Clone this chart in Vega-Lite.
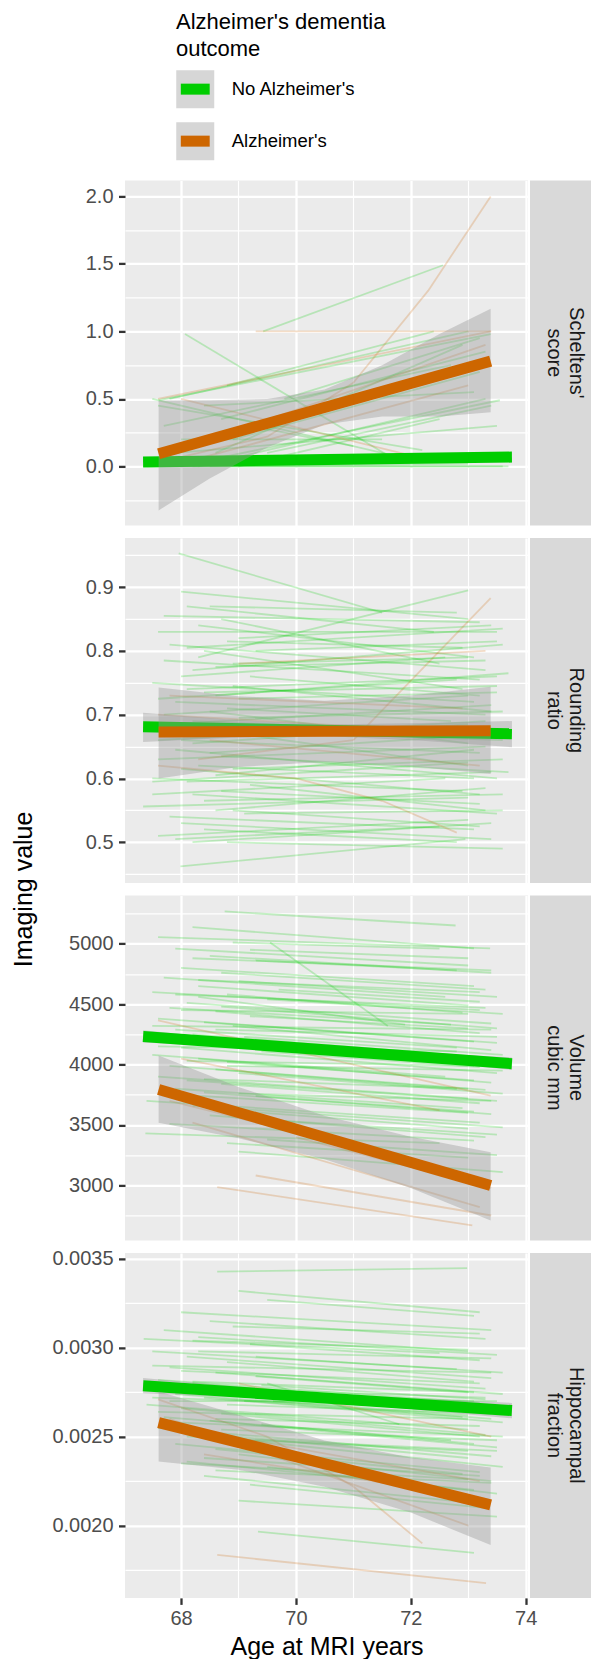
{
"$schema":"https://vega.github.io/schema/vega-lite/v6.json",
"background":"#FFFFFF",
"padding":{"left":11,"top":11.4,"right":0,"bottom":0},
"columns":2,
"spacing":{"row":12.5,"column":2},
"bounds":"flush",
"datasets":{
"seg":[
{"p":1,"g":"No Alzheimer's","x":68.07,"y":0.98,"x2":71.8,"y2":0.03},
{"p":1,"g":"No Alzheimer's","x":69.43,"y":1.0,"x2":72.56,"y2":1.49},
{"p":1,"g":"No Alzheimer's","x":67.61,"y":0.49,"x2":73.39,"y2":0.98},
{"p":1,"g":"No Alzheimer's","x":68.05,"y":0.01,"x2":73.55,"y2":0.49},
{"p":1,"g":"No Alzheimer's","x":67.8,"y":0.5,"x2":73.0,"y2":1.0},
{"p":1,"g":"No Alzheimer's","x":68.3,"y":0.0,"x2":73.3,"y2":0.5},
{"p":1,"g":"No Alzheimer's","x":68.6,"y":0.1,"x2":72.9,"y2":0.9},
{"p":1,"g":"No Alzheimer's","x":67.5,"y":0.5,"x2":72.0,"y2":0.05},
{"p":1,"g":"No Alzheimer's","x":68.9,"y":0.2,"x2":73.2,"y2":0.7},
{"p":1,"g":"No Alzheimer's","x":69.0,"y":0.0,"x2":72.5,"y2":0.35},
{"p":1,"g":"No Alzheimer's","x":67.7,"y":0.3,"x2":72.7,"y2":0.75},
{"p":1,"g":"No Alzheimer's","x":68.4,"y":0.45,"x2":73.1,"y2":0.55},
{"p":1,"g":"No Alzheimer's","x":69.5,"y":0.1,"x2":73.4,"y2":0.45},
{"p":1,"g":"No Alzheimer's","x":68.0,"y":0.2,"x2":71.5,"y2":0.2},
{"p":1,"g":"No Alzheimer's","x":67.4,"y":0.0,"x2":73.7,"y2":0.0},
{"p":1,"g":"No Alzheimer's","x":68.2,"y":0.0,"x2":73.0,"y2":0.02},
{"p":1,"g":"No Alzheimer's","x":68.8,"y":0.6,"x2":72.4,"y2":1.0},
{"p":1,"g":"No Alzheimer's","x":69.8,"y":0.5,"x2":73.2,"y2":0.95},
{"p":1,"g":"No Alzheimer's","x":67.9,"y":0.1,"x2":73.5,"y2":0.3},
{"p":1,"g":"No Alzheimer's","x":68.5,"y":0.0,"x2":73.6,"y2":0.0},
{"p":1,"g":"No Alzheimer's","x":69.2,"y":0.3,"x2":71.0,"y2":0.15},
{"p":1,"g":"No Alzheimer's","x":67.6,"y":0.45,"x2":72.2,"y2":0.12},
{"p":1,"g":"No Alzheimer's","x":68.7,"y":0.35,"x2":73.3,"y2":0.85},
{"p":1,"g":"Alzheimer's","x":67.61,"y":0.03,"x2":69.5,"y2":0.22},
{"p":1,"g":"Alzheimer's","x":69.5,"y":0.22,"x2":71.0,"y2":0.62},
{"p":1,"g":"Alzheimer's","x":71.0,"y":0.62,"x2":72.3,"y2":1.3},
{"p":1,"g":"Alzheimer's","x":72.3,"y":1.3,"x2":73.39,"y2":2.0},
{"p":1,"g":"Alzheimer's","x":67.6,"y":0.5,"x2":73.39,"y2":1.0},
{"p":1,"g":"Alzheimer's","x":68.0,"y":0.5,"x2":72.1,"y2":0.07},
{"p":1,"g":"Alzheimer's","x":69.3,"y":1.0,"x2":73.4,"y2":1.0},
{"p":1,"g":"Alzheimer's","x":68.5,"y":0.2,"x2":73.3,"y2":0.9},
{"p":1,"g":"Alzheimer's","x":67.8,"y":0.0,"x2":73.0,"y2":0.6},
{"p":2,"g":"No Alzheimer's","x":67.96,"y":0.953,"x2":71.5,"y2":0.86},
{"p":2,"g":"No Alzheimer's","x":68.0,"y":0.893,"x2":73.0,"y2":0.85},
{"p":2,"g":"No Alzheimer's","x":67.6,"y":0.83,"x2":73.5,"y2":0.83},
{"p":2,"g":"No Alzheimer's","x":68.5,"y":0.87,"x2":72.8,"y2":0.86},
{"p":2,"g":"No Alzheimer's","x":68.3,"y":0.79,"x2":73.0,"y2":0.895},
{"p":2,"g":"No Alzheimer's","x":67.8,"y":0.81,"x2":73.3,"y2":0.77},
{"p":2,"g":"No Alzheimer's","x":68.2,"y":0.77,"x2":73.6,"y2":0.81},
{"p":2,"g":"No Alzheimer's","x":68.7,"y":0.85,"x2":72.5,"y2":0.78},
{"p":2,"g":"No Alzheimer's","x":69.0,"y":0.82,"x2":73.4,"y2":0.84},
{"p":2,"g":"No Alzheimer's","x":67.5,"y":0.75,"x2":73.1,"y2":0.72},
{"p":2,"g":"No Alzheimer's","x":68.1,"y":0.74,"x2":73.5,"y2":0.76},
{"p":2,"g":"No Alzheimer's","x":68.9,"y":0.78,"x2":73.0,"y2":0.79},
{"p":2,"g":"No Alzheimer's","x":68.4,"y":0.80,"x2":72.9,"y2":0.74},
{"p":2,"g":"No Alzheimer's","x":67.9,"y":0.72,"x2":73.3,"y2":0.70},
{"p":2,"g":"No Alzheimer's","x":68.6,"y":0.73,"x2":73.7,"y2":0.765},
{"p":2,"g":"No Alzheimer's","x":69.2,"y":0.76,"x2":73.2,"y2":0.73},
{"p":2,"g":"No Alzheimer's","x":67.7,"y":0.70,"x2":73.0,"y2":0.73},
{"p":2,"g":"No Alzheimer's","x":68.2,"y":0.69,"x2":73.4,"y2":0.67},
{"p":2,"g":"No Alzheimer's","x":68.8,"y":0.71,"x2":72.7,"y2":0.69},
{"p":2,"g":"No Alzheimer's","x":67.4,"y":0.68,"x2":73.6,"y2":0.66},
{"p":2,"g":"No Alzheimer's","x":68.0,"y":0.66,"x2":73.2,"y2":0.64},
{"p":2,"g":"No Alzheimer's","x":68.5,"y":0.64,"x2":73.5,"y2":0.67},
{"p":2,"g":"No Alzheimer's","x":69.0,"y":0.67,"x2":73.0,"y2":0.62},
{"p":2,"g":"No Alzheimer's","x":67.6,"y":0.63,"x2":73.3,"y2":0.65},
{"p":2,"g":"No Alzheimer's","x":68.3,"y":0.62,"x2":73.1,"y2":0.60},
{"p":2,"g":"No Alzheimer's","x":68.9,"y":0.615,"x2":73.6,"y2":0.63},
{"p":2,"g":"No Alzheimer's","x":67.5,"y":0.60,"x2":72.9,"y2":0.58},
{"p":2,"g":"No Alzheimer's","x":68.1,"y":0.595,"x2":73.4,"y2":0.61},
{"p":2,"g":"No Alzheimer's","x":68.7,"y":0.58,"x2":73.2,"y2":0.56},
{"p":2,"g":"No Alzheimer's","x":67.34,"y":0.556,"x2":73.0,"y2":0.57},
{"p":2,"g":"No Alzheimer's","x":68.2,"y":0.575,"x2":73.5,"y2":0.545},
{"p":2,"g":"No Alzheimer's","x":68.6,"y":0.55,"x2":73.3,"y2":0.585},
{"p":2,"g":"No Alzheimer's","x":67.8,"y":0.54,"x2":73.1,"y2":0.52},
{"p":2,"g":"No Alzheimer's","x":69.1,"y":0.545,"x2":73.6,"y2":0.55},
{"p":2,"g":"No Alzheimer's","x":68.0,"y":0.53,"x2":73.4,"y2":0.505},
{"p":2,"g":"No Alzheimer's","x":67.6,"y":0.51,"x2":73.0,"y2":0.535},
{"p":2,"g":"No Alzheimer's","x":68.4,"y":0.52,"x2":72.8,"y2":0.50},
{"p":2,"g":"No Alzheimer's","x":67.99,"y":0.462,"x2":72.95,"y2":0.505},
{"p":2,"g":"No Alzheimer's","x":68.8,"y":0.50,"x2":73.6,"y2":0.49},
{"p":2,"g":"No Alzheimer's","x":67.9,"y":0.505,"x2":72.5,"y2":0.525},
{"p":2,"g":"No Alzheimer's","x":68.3,"y":0.84,"x2":73.1,"y2":0.79},
{"p":2,"g":"No Alzheimer's","x":69.3,"y":0.80,"x2":73.5,"y2":0.815},
{"p":2,"g":"No Alzheimer's","x":68.1,"y":0.87,"x2":72.4,"y2":0.83},
{"p":2,"g":"No Alzheimer's","x":67.7,"y":0.785,"x2":73.2,"y2":0.755},
{"p":2,"g":"No Alzheimer's","x":68.9,"y":0.745,"x2":73.4,"y2":0.705},
{"p":2,"g":"No Alzheimer's","x":67.6,"y":0.725,"x2":72.8,"y2":0.755},
{"p":2,"g":"No Alzheimer's","x":69.0,"y":0.695,"x2":73.6,"y2":0.705},
{"p":2,"g":"No Alzheimer's","x":68.2,"y":0.655,"x2":73.0,"y2":0.685},
{"p":2,"g":"No Alzheimer's","x":67.9,"y":0.645,"x2":73.5,"y2":0.60},
{"p":2,"g":"No Alzheimer's","x":68.6,"y":0.605,"x2":73.1,"y2":0.645},
{"p":2,"g":"No Alzheimer's","x":67.5,"y":0.575,"x2":72.6,"y2":0.60},
{"p":2,"g":"No Alzheimer's","x":68.4,"y":0.565,"x2":73.6,"y2":0.575},
{"p":2,"g":"No Alzheimer's","x":69.2,"y":0.59,"x2":73.3,"y2":0.55},
{"p":2,"g":"No Alzheimer's","x":68.0,"y":0.615,"x2":73.2,"y2":0.575},
{"p":2,"g":"No Alzheimer's","x":68.7,"y":0.635,"x2":73.7,"y2":0.61},
{"p":2,"g":"No Alzheimer's","x":67.8,"y":0.685,"x2":73.4,"y2":0.715},
{"p":2,"g":"No Alzheimer's","x":68.5,"y":0.705,"x2":73.0,"y2":0.655},
{"p":2,"g":"No Alzheimer's","x":68.1,"y":0.805,"x2":73.6,"y2":0.835},
{"p":2,"g":"No Alzheimer's","x":68.8,"y":0.815,"x2":72.9,"y2":0.805},
{"p":2,"g":"No Alzheimer's","x":67.7,"y":0.855,"x2":73.2,"y2":0.845},
{"p":2,"g":"No Alzheimer's","x":68.4,"y":0.735,"x2":73.5,"y2":0.745},
{"p":2,"g":"No Alzheimer's","x":67.6,"y":0.66,"x2":73.3,"y2":0.69},
{"p":2,"g":"No Alzheimer's","x":68.9,"y":0.55,"x2":73.2,"y2":0.525},
{"p":2,"g":"No Alzheimer's","x":68.2,"y":0.50,"x2":73.4,"y2":0.53},
{"p":2,"g":"No Alzheimer's","x":67.5,"y":0.595,"x2":73.0,"y2":0.625},
{"p":2,"g":"No Alzheimer's","x":68.6,"y":0.775,"x2":73.3,"y2":0.785},
{"p":2,"g":"No Alzheimer's","x":68.0,"y":0.76,"x2":72.6,"y2":0.79},
{"p":2,"g":"No Alzheimer's","x":69.0,"y":0.725,"x2":73.5,"y2":0.735},
{"p":2,"g":"Alzheimer's","x":68.3,"y":0.63,"x2":71.0,"y2":0.66},
{"p":2,"g":"Alzheimer's","x":71.0,"y":0.66,"x2":73.39,"y2":0.883},
{"p":2,"g":"Alzheimer's","x":67.6,"y":0.62,"x2":70.0,"y2":0.60},
{"p":2,"g":"Alzheimer's","x":70.0,"y":0.60,"x2":71.5,"y2":0.565},
{"p":2,"g":"Alzheimer's","x":71.5,"y":0.565,"x2":72.8,"y2":0.515},
{"p":2,"g":"Alzheimer's","x":67.6,"y":0.70,"x2":73.3,"y2":0.67},
{"p":2,"g":"Alzheimer's","x":68.5,"y":0.66,"x2":73.2,"y2":0.62},
{"p":2,"g":"Alzheimer's","x":69.0,"y":0.78,"x2":73.3,"y2":0.80},
{"p":2,"g":"Alzheimer's","x":67.8,"y":0.73,"x2":72.9,"y2":0.71},
{"p":3,"g":"No Alzheimer's","x":68.76,"y":5267,"x2":72.78,"y2":5151},
{"p":3,"g":"No Alzheimer's","x":68.2,"y":5137,"x2":73.1,"y2":4961},
{"p":3,"g":"No Alzheimer's","x":67.6,"y":5055,"x2":73.38,"y2":4961},
{"p":3,"g":"No Alzheimer's","x":68.9,"y":5010,"x2":72.5,"y2":4960},
{"p":3,"g":"No Alzheimer's","x":67.9,"y":4960,"x2":73.0,"y2":4820},
{"p":3,"g":"No Alzheimer's","x":68.5,"y":4900,"x2":73.4,"y2":4760},
{"p":3,"g":"No Alzheimer's","x":69.3,"y":4860,"x2":72.8,"y2":4780},
{"p":3,"g":"No Alzheimer's","x":68.0,"y":4800,"x2":73.1,"y2":4650},
{"p":3,"g":"No Alzheimer's","x":68.7,"y":4760,"x2":73.3,"y2":4620},
{"p":3,"g":"No Alzheimer's","x":67.7,"y":4720,"x2":72.6,"y2":4560},
{"p":3,"g":"No Alzheimer's","x":69.0,"y":4690,"x2":73.5,"y2":4560},
{"p":3,"g":"No Alzheimer's","x":68.3,"y":4650,"x2":73.0,"y2":4490},
{"p":3,"g":"No Alzheimer's","x":67.5,"y":4600,"x2":73.2,"y2":4450},
{"p":3,"g":"No Alzheimer's","x":68.8,"y":4580,"x2":72.9,"y2":4430},
{"p":3,"g":"No Alzheimer's","x":69.5,"y":4540,"x2":73.6,"y2":4420},
{"p":3,"g":"No Alzheimer's","x":68.1,"y":4510,"x2":73.4,"y2":4340},
{"p":3,"g":"No Alzheimer's","x":67.8,"y":4470,"x2":72.7,"y2":4330},
{"p":3,"g":"No Alzheimer's","x":68.6,"y":4440,"x2":73.2,"y2":4260},
{"p":3,"g":"No Alzheimer's","x":69.2,"y":4400,"x2":73.0,"y2":4300},
{"p":3,"g":"No Alzheimer's","x":67.6,"y":4380,"x2":73.5,"y2":4180},
{"p":3,"g":"No Alzheimer's","x":68.4,"y":4350,"x2":73.1,"y2":4190},
{"p":3,"g":"No Alzheimer's","x":68.9,"y":4320,"x2":73.4,"y2":4120},
{"p":3,"g":"No Alzheimer's","x":67.9,"y":4290,"x2":72.8,"y2":4140},
{"p":3,"g":"No Alzheimer's","x":68.2,"y":4250,"x2":73.3,"y2":4060},
{"p":3,"g":"No Alzheimer's","x":69.1,"y":4230,"x2":73.6,"y2":4080},
{"p":3,"g":"No Alzheimer's","x":67.7,"y":4200,"x2":73.0,"y2":4020},
{"p":3,"g":"No Alzheimer's","x":68.5,"y":4170,"x2":72.9,"y2":4010},
{"p":3,"g":"No Alzheimer's","x":68.0,"y":4140,"x2":73.5,"y2":3930},
{"p":3,"g":"No Alzheimer's","x":69.4,"y":4110,"x2":73.2,"y2":3980},
{"p":3,"g":"No Alzheimer's","x":67.5,"y":4080,"x2":72.6,"y2":3900},
{"p":3,"g":"No Alzheimer's","x":68.3,"y":4050,"x2":73.4,"y2":3850},
{"p":3,"g":"No Alzheimer's","x":68.8,"y":4020,"x2":73.1,"y2":3870},
{"p":3,"g":"No Alzheimer's","x":67.8,"y":3990,"x2":73.3,"y2":3790},
{"p":3,"g":"No Alzheimer's","x":68.6,"y":3960,"x2":72.8,"y2":3800},
{"p":3,"g":"No Alzheimer's","x":69.0,"y":3930,"x2":73.6,"y2":3760},
{"p":3,"g":"No Alzheimer's","x":67.6,"y":3900,"x2":73.0,"y2":3720},
{"p":3,"g":"No Alzheimer's","x":68.1,"y":3870,"x2":73.5,"y2":3700},
{"p":3,"g":"No Alzheimer's","x":68.7,"y":3840,"x2":73.2,"y2":3680},
{"p":3,"g":"No Alzheimer's","x":67.9,"y":3800,"x2":72.9,"y2":3640},
{"p":3,"g":"No Alzheimer's","x":68.4,"y":3770,"x2":73.4,"y2":3590},
{"p":3,"g":"No Alzheimer's","x":69.3,"y":3740,"x2":73.1,"y2":3610},
{"p":3,"g":"No Alzheimer's","x":67.4,"y":3700,"x2":73.2,"y2":3520},
{"p":3,"g":"No Alzheimer's","x":68.2,"y":3660,"x2":73.6,"y2":3480},
{"p":3,"g":"No Alzheimer's","x":68.9,"y":3620,"x2":73.0,"y2":3470},
{"p":3,"g":"No Alzheimer's","x":67.38,"y":3430,"x2":72.5,"y2":3350},
{"p":3,"g":"No Alzheimer's","x":68.5,"y":3580,"x2":73.3,"y2":3400},
{"p":3,"g":"No Alzheimer's","x":69.6,"y":3540,"x2":73.5,"y2":3420},
{"p":3,"g":"No Alzheimer's","x":67.8,"y":3510,"x2":73.1,"y2":3370},
{"p":3,"g":"No Alzheimer's","x":68.3,"y":4700,"x2":73.2,"y2":4600},
{"p":3,"g":"No Alzheimer's","x":68.0,"y":4450,"x2":73.0,"y2":4420},
{"p":3,"g":"No Alzheimer's","x":69.2,"y":4950,"x2":73.0,"y2":4880},
{"p":3,"g":"No Alzheimer's","x":68.6,"y":4290,"x2":73.5,"y2":4230},
{"p":3,"g":"No Alzheimer's","x":67.6,"y":4150,"x2":72.8,"y2":4110},
{"p":3,"g":"No Alzheimer's","x":68.8,"y":3990,"x2":73.6,"y2":3950},
{"p":3,"g":"No Alzheimer's","x":67.9,"y":4580,"x2":73.3,"y2":4470},
{"p":3,"g":"No Alzheimer's","x":68.4,"y":3880,"x2":73.0,"y2":3800},
{"p":3,"g":"No Alzheimer's","x":69.0,"y":3760,"x2":73.4,"y2":3700},
{"p":3,"g":"No Alzheimer's","x":68.1,"y":4030,"x2":73.1,"y2":3990},
{"p":3,"g":"No Alzheimer's","x":67.5,"y":4320,"x2":73.4,"y2":4290},
{"p":3,"g":"No Alzheimer's","x":68.7,"y":4480,"x2":73.5,"y2":4300},
{"p":3,"g":"No Alzheimer's","x":69.7,"y":4620,"x2":73.2,"y2":4520},
{"p":3,"g":"No Alzheimer's","x":68.2,"y":4880,"x2":73.4,"y2":4780},
{"p":3,"g":"No Alzheimer's","x":67.7,"y":3760,"x2":73.0,"y2":3600},
{"p":3,"g":"No Alzheimer's","x":69.5,"y":3380,"x2":73.5,"y2":3250},
{"p":3,"g":"No Alzheimer's","x":69.0,"y":3280,"x2":73.6,"y2":3110},
{"p":3,"g":"No Alzheimer's","x":68.8,"y":3350,"x2":73.0,"y2":3230},
{"p":3,"g":"No Alzheimer's","x":69.55,"y":5010,"x2":71.6,"y2":4320},
{"p":3,"g":"No Alzheimer's","x":68.3,"y":4560,"x2":71.9,"y2":4330},
{"p":3,"g":"Alzheimer's","x":68.63,"y":2986,"x2":73.07,"y2":2669},
{"p":3,"g":"Alzheimer's","x":69.3,"y":3082,"x2":73.4,"y2":2751},
{"p":3,"g":"Alzheimer's","x":67.6,"y":4365,"x2":73.39,"y2":3744},
{"p":3,"g":"Alzheimer's","x":67.8,"y":3700,"x2":73.3,"y2":3050},
{"p":3,"g":"Alzheimer's","x":68.2,"y":3520,"x2":73.2,"y2":2820},
{"p":3,"g":"Alzheimer's","x":70.0,"y":3400,"x2":73.4,"y2":2980},
{"p":3,"g":"Alzheimer's","x":68.0,"y":4050,"x2":72.5,"y2":3620},
{"p":4,"g":"No Alzheimer's","x":68.63,"y":0.003429,"x2":72.98,"y2":0.003448},
{"p":4,"g":"No Alzheimer's","x":69.0,"y":0.00332,"x2":73.2,"y2":0.0032},
{"p":4,"g":"No Alzheimer's","x":69.5,"y":0.00327,"x2":73.1,"y2":0.00318},
{"p":4,"g":"No Alzheimer's","x":68.0,"y":0.0032,"x2":73.4,"y2":0.0031},
{"p":4,"g":"No Alzheimer's","x":68.5,"y":0.00315,"x2":73.3,"y2":0.00305},
{"p":4,"g":"No Alzheimer's","x":67.7,"y":0.0031,"x2":73.0,"y2":0.00298},
{"p":4,"g":"No Alzheimer's","x":68.3,"y":0.00306,"x2":73.5,"y2":0.00296},
{"p":4,"g":"No Alzheimer's","x":69.2,"y":0.00302,"x2":73.2,"y2":0.00293},
{"p":4,"g":"No Alzheimer's","x":67.5,"y":0.00298,"x2":72.8,"y2":0.00288},
{"p":4,"g":"No Alzheimer's","x":68.1,"y":0.00295,"x2":73.4,"y2":0.00283},
{"p":4,"g":"No Alzheimer's","x":68.8,"y":0.00292,"x2":73.1,"y2":0.00281},
{"p":4,"g":"No Alzheimer's","x":67.8,"y":0.00289,"x2":73.3,"y2":0.00277},
{"p":4,"g":"No Alzheimer's","x":68.6,"y":0.00286,"x2":73.6,"y2":0.00274},
{"p":4,"g":"No Alzheimer's","x":69.3,"y":0.00284,"x2":73.0,"y2":0.00275},
{"p":4,"g":"No Alzheimer's","x":67.6,"y":0.00282,"x2":73.2,"y2":0.00269},
{"p":4,"g":"No Alzheimer's","x":68.2,"y":0.0028,"x2":73.5,"y2":0.00266},
{"p":4,"g":"No Alzheimer's","x":68.9,"y":0.00277,"x2":73.1,"y2":0.00265},
{"p":4,"g":"No Alzheimer's","x":67.9,"y":0.00274,"x2":73.4,"y2":0.0026},
{"p":4,"g":"No Alzheimer's","x":68.4,"y":0.00272,"x2":72.9,"y2":0.00261},
{"p":4,"g":"No Alzheimer's","x":69.1,"y":0.0027,"x2":73.6,"y2":0.00258},
{"p":4,"g":"No Alzheimer's","x":67.4,"y":0.00268,"x2":73.0,"y2":0.00254},
{"p":4,"g":"No Alzheimer's","x":68.0,"y":0.00266,"x2":73.3,"y2":0.00251},
{"p":4,"g":"No Alzheimer's","x":68.7,"y":0.00263,"x2":73.2,"y2":0.0025},
{"p":4,"g":"No Alzheimer's","x":67.7,"y":0.00261,"x2":72.7,"y2":0.00248},
{"p":4,"g":"No Alzheimer's","x":68.5,"y":0.00259,"x2":73.5,"y2":0.00244},
{"p":4,"g":"No Alzheimer's","x":69.4,"y":0.00257,"x2":73.1,"y2":0.00246},
{"p":4,"g":"No Alzheimer's","x":67.6,"y":0.00255,"x2":73.4,"y2":0.00239},
{"p":4,"g":"No Alzheimer's","x":68.3,"y":0.00252,"x2":73.0,"y2":0.00238},
{"p":4,"g":"No Alzheimer's","x":68.8,"y":0.00249,"x2":73.6,"y2":0.00233},
{"p":4,"g":"No Alzheimer's","x":67.9,"y":0.00246,"x2":73.2,"y2":0.0023},
{"p":4,"g":"No Alzheimer's","x":68.6,"y":0.00243,"x2":72.9,"y2":0.00229},
{"p":4,"g":"No Alzheimer's","x":69.0,"y":0.0024,"x2":73.4,"y2":0.00225},
{"p":4,"g":"No Alzheimer's","x":68.1,"y":0.00236,"x2":73.1,"y2":0.0022},
{"p":4,"g":"No Alzheimer's","x":69.5,"y":0.00233,"x2":73.5,"y2":0.00218},
{"p":4,"g":"No Alzheimer's","x":68.4,"y":0.00228,"x2":73.0,"y2":0.00213},
{"p":4,"g":"No Alzheimer's","x":69.2,"y":0.00223,"x2":73.3,"y2":0.0021},
{"p":4,"g":"No Alzheimer's","x":69.34,"y":0.001966,"x2":73.1,"y2":0.001846},
{"p":4,"g":"No Alzheimer's","x":68.2,"y":0.00304,"x2":73.0,"y2":0.00299},
{"p":4,"g":"No Alzheimer's","x":67.5,"y":0.0029,"x2":73.4,"y2":0.00286},
{"p":4,"g":"No Alzheimer's","x":68.9,"y":0.00312,"x2":73.2,"y2":0.00308},
{"p":4,"g":"No Alzheimer's","x":67.8,"y":0.0027,"x2":73.5,"y2":0.0027},
{"p":4,"g":"No Alzheimer's","x":68.5,"y":0.00276,"x2":73.1,"y2":0.0027},
{"p":4,"g":"No Alzheimer's","x":69.3,"y":0.00295,"x2":73.6,"y2":0.00286},
{"p":4,"g":"No Alzheimer's","x":67.6,"y":0.00264,"x2":73.0,"y2":0.0026},
{"p":4,"g":"No Alzheimer's","x":68.0,"y":0.00287,"x2":73.2,"y2":0.0028},
{"p":4,"g":"No Alzheimer's","x":68.7,"y":0.00254,"x2":73.5,"y2":0.00248},
{"p":4,"g":"No Alzheimer's","x":69.1,"y":0.00248,"x2":73.0,"y2":0.00242},
{"p":4,"g":"No Alzheimer's","x":67.7,"y":0.00278,"x2":73.3,"y2":0.00272},
{"p":4,"g":"No Alzheimer's","x":68.3,"y":0.00298,"x2":73.4,"y2":0.00294},
{"p":4,"g":"No Alzheimer's","x":68.6,"y":0.0026,"x2":73.2,"y2":0.00256},
{"p":4,"g":"No Alzheimer's","x":69.6,"y":0.0027,"x2":73.0,"y2":0.00262},
{"p":4,"g":"No Alzheimer's","x":67.9,"y":0.00258,"x2":73.6,"y2":0.0025},
{"p":4,"g":"No Alzheimer's","x":68.4,"y":0.00238,"x2":73.2,"y2":0.00228},
{"p":4,"g":"No Alzheimer's","x":69.0,"y":0.00214,"x2":73.5,"y2":0.00205},
{"p":4,"g":"No Alzheimer's","x":68.2,"y":0.00281,"x2":73.1,"y2":0.00275},
{"p":4,"g":"No Alzheimer's","x":67.5,"y":0.00272,"x2":73.0,"y2":0.00266},
{"p":4,"g":"No Alzheimer's","x":68.8,"y":0.00268,"x2":73.4,"y2":0.00263},
{"p":4,"g":"No Alzheimer's","x":69.4,"y":0.00279,"x2":73.3,"y2":0.00271},
{"p":4,"g":"No Alzheimer's","x":69.5,"y":0.0028,"x2":71.8,"y2":0.00257},
{"p":4,"g":"No Alzheimer's","x":68.1,"y":0.0025,"x2":73.5,"y2":0.00242},
{"p":4,"g":"No Alzheimer's","x":67.35,"y":0.00305,"x2":72.5,"y2":0.00297},
{"p":4,"g":"No Alzheimer's","x":68.0,"y":0.00235,"x2":73.0,"y2":0.00226},
{"p":4,"g":"No Alzheimer's","x":68.6,"y":0.00231,"x2":73.4,"y2":0.00224},
{"p":4,"g":"Alzheimer's","x":68.63,"y":0.001835,"x2":73.31,"y2":0.001676},
{"p":4,"g":"Alzheimer's","x":67.6,"y":0.00271,"x2":69.5,"y2":0.0025},
{"p":4,"g":"Alzheimer's","x":69.5,"y":0.0025,"x2":71.0,"y2":0.00222},
{"p":4,"g":"Alzheimer's","x":71.0,"y":0.00222,"x2":72.2,"y2":0.0019},
{"p":4,"g":"Alzheimer's","x":68.0,"y":0.00255,"x2":73.2,"y2":0.00225},
{"p":4,"g":"Alzheimer's","x":67.8,"y":0.0026,"x2":73.0,"y2":0.002},
{"p":4,"g":"Alzheimer's","x":68.4,"y":0.0024,"x2":73.3,"y2":0.00215},
{"p":4,"g":"Alzheimer's","x":69.0,"y":0.0028,"x2":73.4,"y2":0.0025}
],
"band":[
{"p":1,"g":"No Alzheimer's","x":67.34,"y":-0.005,"y2":0.069},
{"p":1,"g":"No Alzheimer's","x":70.5,"y":0.032,"y2":0.068},
{"p":1,"g":"No Alzheimer's","x":73.76,"y":0.03,"y2":0.108},
{"p":1,"g":"Alzheimer's","x":67.61,"y":-0.326,"y2":0.489},
{"p":1,"g":"Alzheimer's","x":68.5,"y":-0.09,"y2":0.49},
{"p":1,"g":"Alzheimer's","x":69.5,"y":0.14,"y2":0.5},
{"p":1,"g":"Alzheimer's","x":70.5,"y":0.31,"y2":0.57},
{"p":1,"g":"Alzheimer's","x":71.5,"y":0.37,"y2":0.75},
{"p":1,"g":"Alzheimer's","x":72.5,"y":0.37,"y2":0.98},
{"p":1,"g":"Alzheimer's","x":73.39,"y":0.402,"y2":1.168},
{"p":2,"g":"No Alzheimer's","x":67.34,"y":0.657,"y2":0.703},
{"p":2,"g":"No Alzheimer's","x":68.9,"y":0.664,"y2":0.692},
{"p":2,"g":"No Alzheimer's","x":70.5,"y":0.6665,"y2":0.6845},
{"p":2,"g":"No Alzheimer's","x":72.2,"y":0.659,"y2":0.687},
{"p":2,"g":"No Alzheimer's","x":73.76,"y":0.649,"y2":0.69},
{"p":2,"g":"Alzheimer's","x":67.61,"y":0.6,"y2":0.7425},
{"p":2,"g":"Alzheimer's","x":69.0,"y":0.618,"y2":0.729},
{"p":2,"g":"Alzheimer's","x":70.5,"y":0.626,"y2":0.722},
{"p":2,"g":"Alzheimer's","x":72.0,"y":0.619,"y2":0.73},
{"p":2,"g":"Alzheimer's","x":73.39,"y":0.607,"y2":0.744},
{"p":3,"g":"No Alzheimer's","x":67.34,"y":4183,"y2":4283},
{"p":3,"g":"No Alzheimer's","x":69.0,"y":4145,"y2":4205},
{"p":3,"g":"No Alzheimer's","x":70.5,"y":4102,"y2":4142},
{"p":3,"g":"No Alzheimer's","x":72.0,"y":4040,"y2":4100},
{"p":3,"g":"No Alzheimer's","x":73.76,"y":3955,"y2":4059},
{"p":3,"g":"Alzheimer's","x":67.61,"y":3519,"y2":4076},
{"p":3,"g":"Alzheimer's","x":69.0,"y":3391,"y2":3815},
{"p":3,"g":"Alzheimer's","x":70.5,"y":3217,"y2":3577},
{"p":3,"g":"Alzheimer's","x":72.0,"y":2979,"y2":3403},
{"p":3,"g":"Alzheimer's","x":73.39,"y":2710,"y2":3275},
{"p":4,"g":"No Alzheimer's","x":67.34,"y":0.002745,"y2":0.00283},
{"p":4,"g":"No Alzheimer's","x":70.5,"y":0.002698,"y2":0.002738},
{"p":4,"g":"No Alzheimer's","x":73.76,"y":0.002603,"y2":0.00269},
{"p":4,"g":"Alzheimer's","x":67.61,"y":0.00236,"y2":0.002754},
{"p":4,"g":"Alzheimer's","x":69.0,"y":0.002314,"y2":0.002623},
{"p":4,"g":"Alzheimer's","x":70.5,"y":0.002218,"y2":0.002478},
{"p":4,"g":"Alzheimer's","x":72.0,"y":0.002073,"y2":0.002383},
{"p":4,"g":"Alzheimer's","x":73.39,"y":0.001891,"y2":0.002326}
],
"fit":[
{"p":1,"g":"No Alzheimer's","x":67.34,"y":0.032,"x2":73.76,"y2":0.069},
{"p":1,"g":"Alzheimer's","x":67.61,"y":0.094,"x2":73.39,"y2":0.78},
{"p":2,"g":"No Alzheimer's","x":67.34,"y":0.681,"x2":73.76,"y2":0.67},
{"p":2,"g":"Alzheimer's","x":67.61,"y":0.673,"x2":73.39,"y2":0.675},
{"p":3,"g":"No Alzheimer's","x":67.34,"y":4233,"x2":73.76,"y2":4007},
{"p":3,"g":"Alzheimer's","x":67.61,"y":3794,"x2":73.39,"y2":3000},
{"p":4,"g":"No Alzheimer's","x":67.34,"y":0.002787,"x2":73.76,"y2":0.002647},
{"p":4,"g":"Alzheimer's","x":67.61,"y":0.002579,"x2":73.39,"y2":0.002116}
]
},
"concat":[
{"width":403,"height":345,"view":{"fill":"#EBEBEB","stroke":null},
 "encoding":{
  "x":{"field":"x","type":"quantitative","scale":{"domain":[67.025,74.04],"nice":false,"zero":false},
   "axis":{"values":[67,68,69,70,71,72,73,74],"labels":false,"ticks":false,"title":null,"gridWidth":{"condition":{"test":"datum.value % 2 === 0","value":2.3},"value":1.15}}},
  "y":{"field":"y","type":"quantitative","scale":{"domain":[-0.437,2.1185],"nice":false,"zero":false},
   "axis":{"values":[-0.25,0,0.25,0.5,0.75,1,1.25,1.5,1.75,2],"format":".1f","title":null,
    "labelExpr":"abs(datum.value*2-round(datum.value*2))<0.001 ? datum.label : ''",
    "tickOpacity":{"condition":{"test":"abs(datum.value*2-round(datum.value*2))<0.001","value":1},"value":0},
    "gridWidth":{"condition":{"test":"abs(datum.value*2-round(datum.value*2))<0.001","value":2.3},"value":1.15}}}
 },
 "layer":[
  {"data":{"name":"seg"},"transform":[{"filter":"datum.p==1"}],"mark":{"type":"rule","strokeWidth":1.8,"strokeOpacity":0.22},
   "encoding":{"x2":{"field":"x2"},"y2":{"field":"y2"},"stroke":{"field":"g","type":"nominal","scale":{"domain":["Alzheimer's","No Alzheimer's"],"range":["#CD6600","#00CD00"]},"legend":null}}},
  {"data":{"name":"band"},"transform":[{"filter":"datum.p==1"},{"filter":{"field":"g","equal":"No Alzheimer's"}}],"mark":{"type":"area"},
   "encoding":{"y2":{"field":"y2"},"fill":{"field":"g","type":"nominal","scale":{"domain":["No Alzheimer's","Alzheimer's"],"range":["rgba(153,153,153,0.4)","rgba(153,153,153,0.4)"]},"legend":{"orient":"none","legendX":51,"legendY":-168.6,"direction":"vertical","title":["Alzheimer's dementia","outcome"],"symbolType":"M-3.042,0H4V4H-4V-4H4V0Z","symbolSize":90.25,"symbolStrokeWidth":11,"symbolDash":[28.9,1000],"symbolOffset":8.75,"zindex":2}}}},
  {"data":{"name":"fit"},"transform":[{"filter":"datum.p==1"},{"filter":{"field":"g","equal":"No Alzheimer's"}}],"mark":{"type":"rule","strokeWidth":11},
   "encoding":{"x2":{"field":"x2"},"y2":{"field":"y2"},"color":{"field":"g","type":"nominal","scale":{"domain":["No Alzheimer's","Alzheimer's"],"range":["#00CD00","#CD6600"]},"legend":{"orient":"none","legendX":51,"legendY":-168.6,"direction":"vertical","title":["Alzheimer's dementia","outcome"],"symbolType":"M-3.042,0H4V4H-4V-4H4V0Z","symbolSize":90.25,"symbolStrokeWidth":11,"symbolDash":[28.9,1000],"symbolOffset":8.75,"zindex":2}}}},
  {"data":{"name":"band"},"transform":[{"filter":"datum.p==1"},{"filter":{"field":"g","equal":"Alzheimer's"}}],"mark":{"type":"area"},
   "encoding":{"y2":{"field":"y2"},"fill":{"field":"g","type":"nominal","scale":{"domain":["No Alzheimer's","Alzheimer's"],"range":["rgba(153,153,153,0.4)","rgba(153,153,153,0.4)"]},"legend":{"orient":"none","legendX":51,"legendY":-168.6,"direction":"vertical","title":["Alzheimer's dementia","outcome"],"symbolType":"M-3.042,0H4V4H-4V-4H4V0Z","symbolSize":90.25,"symbolStrokeWidth":11,"symbolDash":[28.9,1000],"symbolOffset":8.75,"zindex":2}}}},
  {"data":{"name":"fit"},"transform":[{"filter":"datum.p==1"},{"filter":{"field":"g","equal":"Alzheimer's"}}],"mark":{"type":"rule","strokeWidth":11},
   "encoding":{"x2":{"field":"x2"},"y2":{"field":"y2"},"color":{"field":"g","type":"nominal","scale":{"domain":["No Alzheimer's","Alzheimer's"],"range":["#00CD00","#CD6600"]},"legend":{"orient":"none","legendX":51,"legendY":-168.6,"direction":"vertical","title":["Alzheimer's dementia","outcome"],"symbolType":"M-3.042,0H4V4H-4V-4H4V0Z","symbolSize":90.25,"symbolStrokeWidth":11,"symbolDash":[28.9,1000],"symbolOffset":8.75,"zindex":2}}}}
 ]},
{"width":62,"height":345,"view":{"fill":"#D9D9D9","stroke":null},"data":{"values":[{"lab":"Scheltens'\nscore"}]},
 "mark":{"type":"text","angle":90,"fontSize":20,"font":"Liberation Sans","color":"#1A1A1A","lineBreak":"\n","lineHeight":23,"align":"center","baseline":"middle","dy":-15.5},
 "encoding":{"text":{"field":"lab","type":"nominal"}}},
{"width":403,"height":345,"view":{"fill":"#EBEBEB","stroke":null},
 "encoding":{
  "x":{"field":"x","type":"quantitative","scale":{"domain":[67.025,74.04],"nice":false,"zero":false},
   "axis":{"values":[67,68,69,70,71,72,73,74],"labels":false,"ticks":false,"title":null,"gridWidth":{"condition":{"test":"datum.value % 2 === 0","value":2.3},"value":1.15}}},
  "y":{"field":"y","type":"quantitative","scale":{"domain":[0.4362,0.9773],"nice":false,"zero":false},
   "axis":{"values":[0.45,0.5,0.55,0.6,0.65,0.7,0.75,0.8,0.85,0.9,0.95],"format":".1f",
    "title":"Imaging value","titleX":-94,"titleY":351,"titleBaseline":"alphabetic","titleAngle":270,"titleAlign":"center",
    "labelExpr":"abs(datum.value*10-round(datum.value*10))<0.001 ? datum.label : ''",
    "tickOpacity":{"condition":{"test":"abs(datum.value*10-round(datum.value*10))<0.001","value":1},"value":0},
    "gridWidth":{"condition":{"test":"abs(datum.value*10-round(datum.value*10))<0.001","value":2.3},"value":1.15}}}
 },
 "layer":[
  {"data":{"name":"seg"},"transform":[{"filter":"datum.p==2"}],"mark":{"type":"rule","strokeWidth":1.8,"strokeOpacity":0.22},
   "encoding":{"x2":{"field":"x2"},"y2":{"field":"y2"},"stroke":{"field":"g","type":"nominal","scale":{"domain":["Alzheimer's","No Alzheimer's"],"range":["#CD6600","#00CD00"]},"legend":null}}},
  {"data":{"name":"band"},"transform":[{"filter":"datum.p==2"},{"filter":{"field":"g","equal":"No Alzheimer's"}}],"mark":{"type":"area"},
   "encoding":{"y2":{"field":"y2"},"fill":{"field":"g","type":"nominal","scale":{"domain":["No Alzheimer's","Alzheimer's"],"range":["rgba(153,153,153,0.4)","rgba(153,153,153,0.4)"]},"legend":{"orient":"none","legendX":51,"legendY":-168.6,"direction":"vertical","title":["Alzheimer's dementia","outcome"],"symbolType":"M-3.042,0H4V4H-4V-4H4V0Z","symbolSize":90.25,"symbolStrokeWidth":11,"symbolDash":[28.9,1000],"symbolOffset":8.75,"zindex":2}}}},
  {"data":{"name":"fit"},"transform":[{"filter":"datum.p==2"},{"filter":{"field":"g","equal":"No Alzheimer's"}}],"mark":{"type":"rule","strokeWidth":11},
   "encoding":{"x2":{"field":"x2"},"y2":{"field":"y2"},"color":{"field":"g","type":"nominal","scale":{"domain":["No Alzheimer's","Alzheimer's"],"range":["#00CD00","#CD6600"]},"legend":{"orient":"none","legendX":51,"legendY":-168.6,"direction":"vertical","title":["Alzheimer's dementia","outcome"],"symbolType":"M-3.042,0H4V4H-4V-4H4V0Z","symbolSize":90.25,"symbolStrokeWidth":11,"symbolDash":[28.9,1000],"symbolOffset":8.75,"zindex":2}}}},
  {"data":{"name":"band"},"transform":[{"filter":"datum.p==2"},{"filter":{"field":"g","equal":"Alzheimer's"}}],"mark":{"type":"area"},
   "encoding":{"y2":{"field":"y2"},"fill":{"field":"g","type":"nominal","scale":{"domain":["No Alzheimer's","Alzheimer's"],"range":["rgba(153,153,153,0.4)","rgba(153,153,153,0.4)"]},"legend":{"orient":"none","legendX":51,"legendY":-168.6,"direction":"vertical","title":["Alzheimer's dementia","outcome"],"symbolType":"M-3.042,0H4V4H-4V-4H4V0Z","symbolSize":90.25,"symbolStrokeWidth":11,"symbolDash":[28.9,1000],"symbolOffset":8.75,"zindex":2}}}},
  {"data":{"name":"fit"},"transform":[{"filter":"datum.p==2"},{"filter":{"field":"g","equal":"Alzheimer's"}}],"mark":{"type":"rule","strokeWidth":11},
   "encoding":{"x2":{"field":"x2"},"y2":{"field":"y2"},"color":{"field":"g","type":"nominal","scale":{"domain":["No Alzheimer's","Alzheimer's"],"range":["#00CD00","#CD6600"]},"legend":{"orient":"none","legendX":51,"legendY":-168.6,"direction":"vertical","title":["Alzheimer's dementia","outcome"],"symbolType":"M-3.042,0H4V4H-4V-4H4V0Z","symbolSize":90.25,"symbolStrokeWidth":11,"symbolDash":[28.9,1000],"symbolOffset":8.75,"zindex":2}}}}
 ]},
{"width":62,"height":345,"view":{"fill":"#D9D9D9","stroke":null},"data":{"values":[{"lab":"Rounding\nratio"}]},
 "mark":{"type":"text","angle":90,"fontSize":20,"font":"Liberation Sans","color":"#1A1A1A","lineBreak":"\n","lineHeight":23,"align":"center","baseline":"middle","dy":-15.5},
 "encoding":{"text":{"field":"lab","type":"nominal"}}},
{"width":403,"height":345,"view":{"fill":"#EBEBEB","stroke":null},
 "encoding":{
  "x":{"field":"x","type":"quantitative","scale":{"domain":[67.025,74.04],"nice":false,"zero":false},
   "axis":{"values":[67,68,69,70,71,72,73,74],"labels":false,"ticks":false,"title":null,"gridWidth":{"condition":{"test":"datum.value % 2 === 0","value":2.3},"value":1.15}}},
  "y":{"field":"y","type":"quantitative","scale":{"domain":[2545,5400],"nice":false,"zero":false},
   "axis":{"values":[2750,3000,3250,3500,3750,4000,4250,4500,4750,5000,5250],"format":"d","title":null,
    "labelExpr":"datum.value % 500 === 0 ? datum.label : ''",
    "tickOpacity":{"condition":{"test":"datum.value % 500 === 0","value":1},"value":0},
    "gridWidth":{"condition":{"test":"datum.value % 500 === 0","value":2.3},"value":1.15}}}
 },
 "layer":[
  {"data":{"name":"seg"},"transform":[{"filter":"datum.p==3"}],"mark":{"type":"rule","strokeWidth":1.8,"strokeOpacity":0.22},
   "encoding":{"x2":{"field":"x2"},"y2":{"field":"y2"},"stroke":{"field":"g","type":"nominal","scale":{"domain":["Alzheimer's","No Alzheimer's"],"range":["#CD6600","#00CD00"]},"legend":null}}},
  {"data":{"name":"band"},"transform":[{"filter":"datum.p==3"},{"filter":{"field":"g","equal":"No Alzheimer's"}}],"mark":{"type":"area"},
   "encoding":{"y2":{"field":"y2"},"fill":{"field":"g","type":"nominal","scale":{"domain":["No Alzheimer's","Alzheimer's"],"range":["rgba(153,153,153,0.4)","rgba(153,153,153,0.4)"]},"legend":{"orient":"none","legendX":51,"legendY":-168.6,"direction":"vertical","title":["Alzheimer's dementia","outcome"],"symbolType":"M-3.042,0H4V4H-4V-4H4V0Z","symbolSize":90.25,"symbolStrokeWidth":11,"symbolDash":[28.9,1000],"symbolOffset":8.75,"zindex":2}}}},
  {"data":{"name":"fit"},"transform":[{"filter":"datum.p==3"},{"filter":{"field":"g","equal":"No Alzheimer's"}}],"mark":{"type":"rule","strokeWidth":11},
   "encoding":{"x2":{"field":"x2"},"y2":{"field":"y2"},"color":{"field":"g","type":"nominal","scale":{"domain":["No Alzheimer's","Alzheimer's"],"range":["#00CD00","#CD6600"]},"legend":{"orient":"none","legendX":51,"legendY":-168.6,"direction":"vertical","title":["Alzheimer's dementia","outcome"],"symbolType":"M-3.042,0H4V4H-4V-4H4V0Z","symbolSize":90.25,"symbolStrokeWidth":11,"symbolDash":[28.9,1000],"symbolOffset":8.75,"zindex":2}}}},
  {"data":{"name":"band"},"transform":[{"filter":"datum.p==3"},{"filter":{"field":"g","equal":"Alzheimer's"}}],"mark":{"type":"area"},
   "encoding":{"y2":{"field":"y2"},"fill":{"field":"g","type":"nominal","scale":{"domain":["No Alzheimer's","Alzheimer's"],"range":["rgba(153,153,153,0.4)","rgba(153,153,153,0.4)"]},"legend":{"orient":"none","legendX":51,"legendY":-168.6,"direction":"vertical","title":["Alzheimer's dementia","outcome"],"symbolType":"M-3.042,0H4V4H-4V-4H4V0Z","symbolSize":90.25,"symbolStrokeWidth":11,"symbolDash":[28.9,1000],"symbolOffset":8.75,"zindex":2}}}},
  {"data":{"name":"fit"},"transform":[{"filter":"datum.p==3"},{"filter":{"field":"g","equal":"Alzheimer's"}}],"mark":{"type":"rule","strokeWidth":11},
   "encoding":{"x2":{"field":"x2"},"y2":{"field":"y2"},"color":{"field":"g","type":"nominal","scale":{"domain":["No Alzheimer's","Alzheimer's"],"range":["#00CD00","#CD6600"]},"legend":{"orient":"none","legendX":51,"legendY":-168.6,"direction":"vertical","title":["Alzheimer's dementia","outcome"],"symbolType":"M-3.042,0H4V4H-4V-4H4V0Z","symbolSize":90.25,"symbolStrokeWidth":11,"symbolDash":[28.9,1000],"symbolOffset":8.75,"zindex":2}}}}
 ]},
{"width":62,"height":345,"view":{"fill":"#D9D9D9","stroke":null},"data":{"values":[{"lab":"Volume\ncubic mm"}]},
 "mark":{"type":"text","angle":90,"fontSize":20,"font":"Liberation Sans","color":"#1A1A1A","lineBreak":"\n","lineHeight":23,"align":"center","baseline":"middle","dy":-15.5},
 "encoding":{"text":{"field":"lab","type":"nominal"}}},
{"width":403,"height":345,"view":{"fill":"#EBEBEB","stroke":null},
 "encoding":{
  "x":{"field":"x","type":"quantitative","scale":{"domain":[67.025,74.04],"nice":false,"zero":false},
   "axis":{"values":[67,68,69,70,71,72,73,74],"format":"d","title":"Age at MRI years","titlePadding":6,
    "labelExpr":"datum.value % 2 === 0 ? datum.label : ''",
    "tickOpacity":{"condition":{"test":"datum.value % 2 === 0","value":1},"value":0},
    "gridWidth":{"condition":{"test":"datum.value % 2 === 0","value":2.3},"value":1.15}}},
  "y":{"field":"y","type":"quantitative","scale":{"domain":[0.001593,0.003534],"nice":false,"zero":false},
   "axis":{"values":[0.00175,0.002,0.00225,0.0025,0.00275,0.003,0.00325,0.0035],"format":".4f","title":null,
    "labelExpr":"abs(datum.value*2000-round(datum.value*2000))<0.001 ? datum.label : ''",
    "tickOpacity":{"condition":{"test":"abs(datum.value*2000-round(datum.value*2000))<0.001","value":1},"value":0},
    "gridWidth":{"condition":{"test":"abs(datum.value*2000-round(datum.value*2000))<0.001","value":2.3},"value":1.15}}}
 },
 "layer":[
  {"data":{"name":"seg"},"transform":[{"filter":"datum.p==4"}],"mark":{"type":"rule","strokeWidth":1.8,"strokeOpacity":0.22},
   "encoding":{"x2":{"field":"x2"},"y2":{"field":"y2"},"stroke":{"field":"g","type":"nominal","scale":{"domain":["Alzheimer's","No Alzheimer's"],"range":["#CD6600","#00CD00"]},"legend":null}}},
  {"data":{"name":"band"},"transform":[{"filter":"datum.p==4"},{"filter":{"field":"g","equal":"No Alzheimer's"}}],"mark":{"type":"area"},
   "encoding":{"y2":{"field":"y2"},"fill":{"field":"g","type":"nominal","scale":{"domain":["No Alzheimer's","Alzheimer's"],"range":["rgba(153,153,153,0.4)","rgba(153,153,153,0.4)"]},"legend":{"orient":"none","legendX":51,"legendY":-168.6,"direction":"vertical","title":["Alzheimer's dementia","outcome"],"symbolType":"M-3.042,0H4V4H-4V-4H4V0Z","symbolSize":90.25,"symbolStrokeWidth":11,"symbolDash":[28.9,1000],"symbolOffset":8.75,"zindex":2}}}},
  {"data":{"name":"fit"},"transform":[{"filter":"datum.p==4"},{"filter":{"field":"g","equal":"No Alzheimer's"}}],"mark":{"type":"rule","strokeWidth":11},
   "encoding":{"x2":{"field":"x2"},"y2":{"field":"y2"},"color":{"field":"g","type":"nominal","scale":{"domain":["No Alzheimer's","Alzheimer's"],"range":["#00CD00","#CD6600"]},"legend":{"orient":"none","legendX":51,"legendY":-168.6,"direction":"vertical","title":["Alzheimer's dementia","outcome"],"symbolType":"M-3.042,0H4V4H-4V-4H4V0Z","symbolSize":90.25,"symbolStrokeWidth":11,"symbolDash":[28.9,1000],"symbolOffset":8.75,"zindex":2}}}},
  {"data":{"name":"band"},"transform":[{"filter":"datum.p==4"},{"filter":{"field":"g","equal":"Alzheimer's"}}],"mark":{"type":"area"},
   "encoding":{"y2":{"field":"y2"},"fill":{"field":"g","type":"nominal","scale":{"domain":["No Alzheimer's","Alzheimer's"],"range":["rgba(153,153,153,0.4)","rgba(153,153,153,0.4)"]},"legend":{"orient":"none","legendX":51,"legendY":-168.6,"direction":"vertical","title":["Alzheimer's dementia","outcome"],"symbolType":"M-3.042,0H4V4H-4V-4H4V0Z","symbolSize":90.25,"symbolStrokeWidth":11,"symbolDash":[28.9,1000],"symbolOffset":8.75,"zindex":2}}}},
  {"data":{"name":"fit"},"transform":[{"filter":"datum.p==4"},{"filter":{"field":"g","equal":"Alzheimer's"}}],"mark":{"type":"rule","strokeWidth":11},
   "encoding":{"x2":{"field":"x2"},"y2":{"field":"y2"},"color":{"field":"g","type":"nominal","scale":{"domain":["No Alzheimer's","Alzheimer's"],"range":["#00CD00","#CD6600"]},"legend":{"orient":"none","legendX":51,"legendY":-168.6,"direction":"vertical","title":["Alzheimer's dementia","outcome"],"symbolType":"M-3.042,0H4V4H-4V-4H4V0Z","symbolSize":90.25,"symbolStrokeWidth":11,"symbolDash":[28.9,1000],"symbolOffset":8.75,"zindex":2}}}}
 ]},
{"width":62,"height":345,"view":{"fill":"#D9D9D9","stroke":null},"data":{"values":[{"lab":"Hippocampal\nfraction"}]},
 "mark":{"type":"text","angle":90,"fontSize":20,"font":"Liberation Sans","color":"#1A1A1A","lineBreak":"\n","lineHeight":23,"align":"center","baseline":"middle","dy":-15.5},
 "encoding":{"text":{"field":"lab","type":"nominal"}}}
],
"config":{
 "font":"Liberation Sans",
 "view":{"stroke":null},
 "axis":{"domain":false,"labelFont":"Liberation Sans","labelFontSize":20,"labelColor":"#4D4D4D","tickColor":"#333333","tickWidth":2.3,"tickSize":6.5,"gridColor":"#FFFFFF","gridOpacity":1,"titleFont":"Liberation Sans","titleFontSize":25,"titleFontWeight":"normal","titleColor":"#000000","labelOverlap":false,"labelFlush":false,"labelBound":false},
 "axisX":{"labelPadding":4},
 "axisY":{"labelPadding":5.5},
 "legend":{"labelFont":"Liberation Sans","labelFontSize":18.5,"labelColor":"#000000","titleFont":"Liberation Sans","titleFontSize":22,"titleFontWeight":"normal","titleColor":"#000000","titleLineHeight":27,"titlePadding":17.85,"titleLimit":400,"padding":0,"rowPadding":-41,"labelOffset":26,"labelLimit":300}
}
}
